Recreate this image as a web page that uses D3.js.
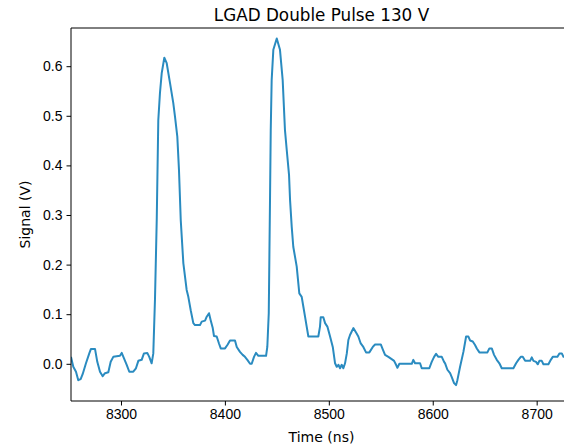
<!DOCTYPE html>
<html lang="en">
<head>
<meta charset="utf-8">
<title>LGAD Double Pulse 130 V</title>
<script src="https://d3js.org/d3.v7.min.js"></script>
<style>
  body { margin: 0; background: #fff; }
  svg { font-family: "DejaVu Sans", sans-serif; }
  .axis text { font-size: 14px; fill: #000; }
  .axis path, .axis line { stroke: #000; stroke-width: 1px; }
</style>
</head>
<body>
<div id="chart"></div>
<script>
// waveform samples
var timeNs = [8251.9, 8254.1, 8256.7, 8258.9, 8261.2, 8263.1, 8266.3, 8269.5, 8271.1, 8275.0,
  8277.2, 8279.8, 8282.4, 8284.6, 8287.8, 8290.1, 8292.6, 8299.0, 8300.7, 8302.9,
  8305.5, 8308.0, 8311.8, 8314.4, 8316.7, 8319.9, 8322.1, 8325.3, 8327.2, 8329.5,
  8331.1, 8332.7, 8334.4, 8335.9, 8337.5, 8339.2, 8341.7, 8344.0, 8347.2, 8350.3,
  8352.0, 8354.2, 8355.8, 8357.5, 8360.0, 8363.2, 8364.8, 8367.1, 8369.6, 8371.2,
  8376.0, 8377.7, 8380.9, 8382.5, 8384.7, 8386.3, 8388.3, 8389.5, 8392.1, 8394.3,
  8396.0, 8400.1, 8402.7, 8404.9, 8409.7, 8411.4, 8414.5, 8417.1, 8419.3, 8421.6,
  8424.2, 8425.8, 8428.0, 8429.9, 8432.2, 8439.6, 8440.8, 8442.2, 8443.4, 8444.1,
  8445.0, 8446.6, 8449.9, 8453.0, 8455.6, 8457.8, 8459.5, 8461.7, 8462.7, 8464.3,
  8465.8, 8469.1, 8471.6, 8473.9, 8475.5, 8477.1, 8478.7, 8480.3, 8489.9, 8491.5,
  8492.2, 8494.7, 8496.4, 8498.6, 8501.2, 8503.8, 8506.0, 8507.6, 8509.2, 8510.8,
  8512.4, 8514.0, 8515.6, 8517.3, 8518.8, 8520.4, 8523.6, 8526.2, 8528.4, 8530.7,
  8533.2, 8535.8, 8539.0, 8542.3, 8544.5, 8550.0, 8551.9, 8554.1, 8557.3, 8561.5,
  8562.8, 8564.7, 8566.0, 8567.9, 8579.8, 8581.3, 8583.0, 8587.8, 8589.4, 8596.7,
  8599.0, 8601.3, 8603.2, 8605.4, 8608.7, 8610.9, 8611.9, 8614.1, 8616.7, 8618.3,
  8620.5, 8622.4, 8623.7, 8626.3, 8629.5, 8632.1, 8634.3, 8635.9, 8638.5, 8640.7,
  8642.4, 8644.9, 8652.6, 8654.5, 8656.8, 8659.0, 8661.6, 8664.1, 8666.4, 8677.6,
  8680.2, 8682.4, 8684.7, 8686.6, 8688.9, 8693.7, 8695.3, 8696.9, 8699.4, 8701.1,
  8702.6, 8704.9, 8706.5, 8711.3, 8713.6, 8715.5, 8720.0, 8721.9, 8724.2, 8725.8,
  8730.0];

var signalV = [0.014, -0.006, -0.016, -0.033, -0.031, -0.021, 0.001, 0.021, 0.030, 0.030,
  0.004, -0.016, -0.025, -0.019, -0.017, 0.004, 0.014, 0.016, 0.022, 0.011,
  -0.002, -0.016, -0.016, -0.009, 0.006, 0.008, 0.021, 0.022, 0.014, 0.001,
  0.021, 0.129, 0.290, 0.491, 0.546, 0.586, 0.617, 0.606, 0.566, 0.526,
  0.498, 0.458, 0.391, 0.290, 0.203, 0.149, 0.135, 0.108, 0.082, 0.078,
  0.078, 0.085, 0.087, 0.095, 0.102, 0.088, 0.072, 0.056, 0.055, 0.041,
  0.031, 0.031, 0.039, 0.047, 0.047, 0.034, 0.024, 0.018, 0.014, 0.008,
  0.000, 0.000, 0.014, 0.022, 0.016, 0.016, 0.034, 0.102, 0.330, 0.471,
  0.572, 0.633, 0.656, 0.633, 0.572, 0.471, 0.431, 0.381, 0.330, 0.276,
  0.236, 0.196, 0.142, 0.135, 0.115, 0.095, 0.075, 0.055, 0.055, 0.075,
  0.094, 0.094, 0.082, 0.075, 0.055, 0.034, 0.001, -0.006, -0.002, -0.009,
  -0.002, -0.009, 0.001, 0.021, 0.048, 0.058, 0.072, 0.063, 0.055, 0.041,
  0.034, 0.023, 0.023, 0.034, 0.039, 0.039, 0.029, 0.018, 0.014, 0.008,
  0.006, -0.002, -0.008, 0.000, 0.000, 0.008, 0.001, 0.001, -0.009, -0.009,
  0.004, 0.014, 0.020, 0.014, 0.014, 0.004, 0.001, -0.012, -0.019, -0.027,
  -0.039, -0.043, -0.033, -0.006, 0.024, 0.055, 0.055, 0.047, 0.045, 0.038,
  0.031, 0.023, 0.023, 0.031, 0.031, 0.018, 0.008, 0.001, -0.009, -0.009,
  0.001, 0.008, 0.014, 0.014, 0.006, 0.006, 0.013, 0.006, 0.004, -0.001,
  0.006, 0.006, -0.001, -0.001, 0.008, 0.014, 0.014, 0.021, 0.021, 0.014,
  0.014];

var xTicks = [8300, 8400, 8500, 8600, 8700];
var yTicks = [0.0, 0.1, 0.2, 0.3, 0.4, 0.5, 0.6];

var W = 564, H = 448;
var margin = { top: 28, left: 71, bottom: 47 };
var plotW = 501, plotH = H - margin.top - margin.bottom;

var svg = d3.select("#chart").append("svg")
    .attr("width", W)
    .attr("height", H);

// right spine sits just past the edge of the picture
var xScale = d3.scaleLinear().domain([8251.9, 8734.0]).range([0, plotW]);
var yScale = d3.scaleLinear().domain([-0.075, 0.677]).range([plotH, 0]);

var g = svg.append("g")
    .attr("transform", "translate(" + margin.left + "," + margin.top + ")");

g.append("clipPath").attr("id", "clip")
  .append("rect").attr("width", plotW).attr("height", plotH);

var pts = timeNs.map(function(t, i) { return [t, signalV[i]]; });

var line = d3.line()
    .x(function(d) { return xScale(d[0]); })
    .y(function(d) { return yScale(d[1]); });

g.append("path")
  .datum(pts)
  .attr("clip-path", "url(#clip)")
  .attr("d", line)
  .attr("fill", "none")
  .attr("stroke", "#2a8bc0")
  .attr("stroke-width", 2)
  .attr("stroke-linejoin", "round");

var xAxis = d3.axisBottom(xScale).tickValues(xTicks).tickSize(4.5).tickPadding(4)
    .tickFormat(d3.format("d"));
var yAxis = d3.axisLeft(yScale).tickValues(yTicks).tickSize(4.5).tickPadding(4)
    .tickFormat(d3.format(".1f"));

g.append("g").attr("class", "axis")
  .attr("transform", "translate(0," + plotH + ")")
  .call(xAxis)
  .call(function(s) { s.select(".domain").attr("d", "M0,0H" + plotW); });

g.append("g").attr("class", "axis")
  .call(yAxis)
  .call(function(s) { s.select(".domain").attr("d", "M0,0V" + plotH); });

// top spine
g.append("line")
  .attr("x1", 0).attr("x2", plotW)
  .attr("y1", 0).attr("y2", 0)
  .attr("stroke", "#000").attr("stroke-width", 1);

svg.append("text")
  .attr("x", margin.left + plotW / 2).attr("y", 21)
  .attr("text-anchor", "middle")
  .style("font-size", "16.8px")
  .text("LGAD Double Pulse 130 V");

svg.append("text")
  .attr("x", margin.left + plotW / 2).attr("y", 442)
  .attr("text-anchor", "middle")
  .style("font-size", "14px")
  .text("Time (ns)");

svg.append("text")
  .attr("transform", "translate(30," + (margin.top + plotH / 2) + ") rotate(-90)")
  .attr("text-anchor", "middle")
  .style("font-size", "14px")
  .text("Signal (V)");
</script>
</body>
</html>
